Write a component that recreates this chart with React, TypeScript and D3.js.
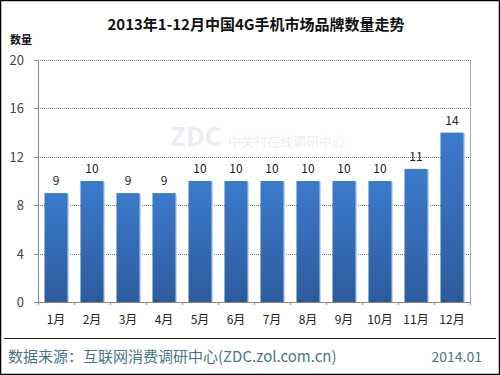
import { useEffect, useRef } from 'react';
import * as d3 from 'd3';

const months = ['1月', '2月', '3月', '4月', '5月', '6月', '7月', '8月', '9月', '10月', '11月', '12月'];
const brandCounts = [9, 10, 9, 9, 10, 10, 10, 10, 10, 10, 11, 14];
const yTicks = [0, 4, 8, 12, 16, 20];

const FONT = '"Noto Sans CJK SC", "Noto Sans", sans-serif';

const App = () => {
    const ref = useRef<SVGSVGElement>(null);

    useEffect(() => {
        document.body.style.margin = '0';
        const svg = d3.select(ref.current);
        svg.selectAll('*').remove();

        const width = 500;
        const height = 375;
        const left = 38, right = 470, top = 60, bottom = 302;

        const x = d3.scaleBand().domain(months).range([left, right]).paddingInner(0.36).paddingOuter(0.18);
        const y = d3.scaleLinear().domain([0, 20]).range([bottom, top]);

        svg.append('rect').attr('x', 0.5).attr('y', 0.5).attr('width', width - 1).attr('height', height - 1)
            .attr('fill', '#fff').attr('stroke', '#000').attr('stroke-width', 1.5);

        const defs = svg.append('defs');
        const grad = defs.append('linearGradient').attr('id', 'barGrad').attr('x1', 0).attr('x2', 0).attr('y1', 0).attr('y2', 1);
        grad.append('stop').attr('offset', '0%').attr('stop-color', '#3b7bcc');
        grad.append('stop').attr('offset', '100%').attr('stop-color', '#2c5c9e');

        // title
        svg.append('text').attr('x', 256).attr('y', 30).attr('text-anchor', 'middle')
            .style('font', `bold 15px ${FONT}`).attr('fill', '#111').text('2013年1-12月中国4G手机市场品牌数量走势');
        svg.append('text').attr('x', 10).attr('y', 44)
            .style('font', `bold 11px ${FONT}`).attr('fill', '#111').text('数量');

        // gridlines
        svg.append('g').selectAll('line').data(yTicks.filter(d => d > 0)).join('line')
            .attr('x1', left).attr('x2', right)
            .attr('y1', d => Math.round(y(d)) + 0.5).attr('y2', d => Math.round(y(d)) + 0.5)
            .attr('stroke', '#777').attr('stroke-dasharray', '1,1');

        // frame lines
        svg.append('line').attr('x1', left + 0.5).attr('x2', left + 0.5).attr('y1', top).attr('y2', bottom)
            .attr('stroke', '#888');
        svg.append('line').attr('x1', right + 0.5).attr('x2', right + 0.5).attr('y1', top).attr('y2', bottom)
            .attr('stroke', '#aaa');
        svg.append('line').attr('x1', left).attr('x2', right + 1).attr('y1', bottom + 0.5).attr('y2', bottom + 0.5)
            .attr('stroke', '#888');

        // y ticks
        const yAxis = svg.append('g');
        yAxis.selectAll('line').data(yTicks).join('line')
            .attr('x1', left - 4).attr('x2', left)
            .attr('y1', d => Math.round(y(d)) + 0.5).attr('y2', d => Math.round(y(d)) + 0.5)
            .attr('stroke', '#888');
        yAxis.selectAll('text').data(yTicks).join('text')
            .attr('x', 24).attr('y', d => y(d) + 5).attr('text-anchor', 'end')
            .style('font', `13px ${FONT}`).attr('fill', '#444').text(d => d);

        // x ticks
        svg.append('g').selectAll('line').data(d3.range(13)).join('line')
            .attr('x1', i => left + i * (right - left) / 12 + 0.5).attr('x2', i => left + i * (right - left) / 12 + 0.5)
            .attr('y1', bottom).attr('y2', bottom + 3).attr('stroke', '#888');

        // watermark (faint, kept clear of the value labels)
        svg.append('text').attr('x', 170).attr('y', 146)
            .style('font', `bold 26px ${FONT}`).attr('fill', '#dde3ec').attr('fill-opacity', 0.6).text('ZDC');
        svg.append('text').attr('x', 228).attr('y', 146)
            .style('font', `13px ${FONT}`).attr('fill', '#dde3ec').attr('fill-opacity', 0.6).text('中关村在线调研中心');

        // bars
        const bars = svg.append('g');
        bars.selectAll('rect.shadow').data(brandCounts).join('rect').attr('class', 'shadow')
            .attr('x', (_, i) => x(months[i])! + 1.5).attr('y', d => y(d) + 1)
            .attr('width', x.bandwidth()).attr('height', d => bottom - y(d) - 1)
            .attr('fill', '#c8d4e4');
        bars.selectAll('rect.bar').data(brandCounts).join('rect').attr('class', 'bar')
            .attr('x', (_, i) => x(months[i])!).attr('y', d => y(d))
            .attr('width', x.bandwidth()).attr('height', d => bottom - y(d))
            .attr('fill', 'url(#barGrad)');

        // value labels
        svg.append('g').selectAll('text').data(brandCounts).join('text')
            .attr('x', (_, i) => x(months[i])! + x.bandwidth() / 2).attr('y', d => y(d) - 8)
            .attr('text-anchor', 'middle').style('font', `12px ${FONT}`).attr('fill', '#222').text(d => d);

        // month labels
        svg.append('g').selectAll('text').data(months).join('text')
            .attr('x', d => x(d)! + x.bandwidth() / 2).attr('y', 324)
            .attr('text-anchor', 'middle').style('font', `12px ${FONT}`).attr('fill', '#222').text(d => d);

        // footer
        svg.append('line').attr('x1', 4).attr('x2', 496).attr('y1', 338.5).attr('y2', 338.5)
            .attr('stroke', '#222').attr('stroke-width', 1);
        svg.append('text').attr('x', 8).attr('y', 362)
            .style('font', `15px ${FONT}`).attr('fill', '#4b7585').text('数据来源：互联网消费调研中心(ZDC.zol.com.cn)');
        svg.append('text').attr('x', 482).attr('y', 362).attr('text-anchor', 'end')
            .style('font', `14px ${FONT}`).attr('fill', '#4b7585').text('2014.01');
    }, []);

    return <svg ref={ref} width={500} height={375} style={{ display: 'block' }} />;
};

export default App;
